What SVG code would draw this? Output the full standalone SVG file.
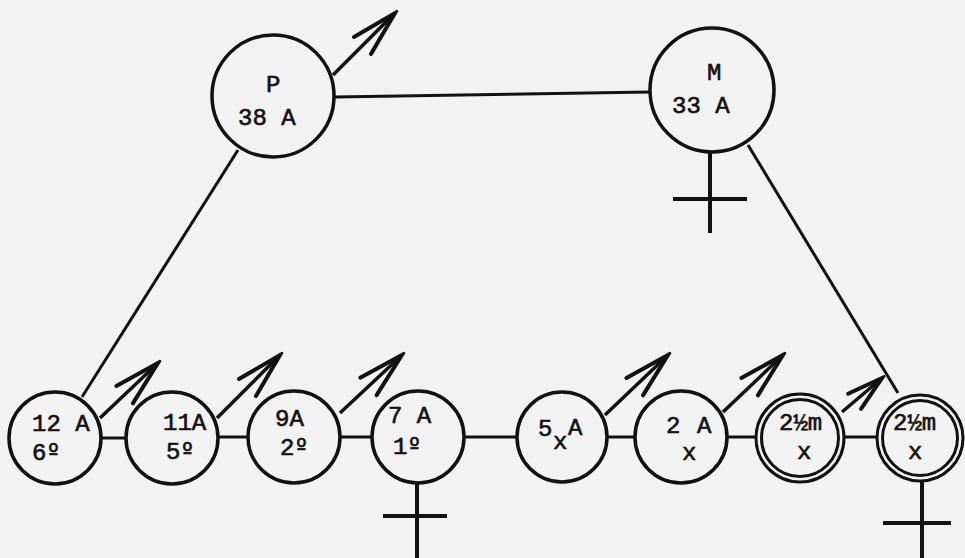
<svg xmlns="http://www.w3.org/2000/svg" width="965" height="558" viewBox="0 0 965 558">
<style>
.bg{fill:#f2f2f2}
.c{fill:none;stroke:#111;stroke-width:3.5}
.d{fill:none;stroke:#111;stroke-width:3}
.l{stroke:#111;stroke-width:3;fill:none}
.a{stroke:#111;stroke-width:3.5;fill:none}
.f{stroke:#111;stroke-width:4;fill:none}
text{font-family:"Liberation Mono","DejaVu Sans Mono",monospace;font-size:24px;fill:#111;stroke:#111;stroke-width:0.6}
.o{font-family:"DejaVu Sans Mono","DejaVu Sans",monospace;font-size:23px}
</style>
<defs>
<marker id="ah" markerUnits="userSpaceOnUse" markerWidth="56" markerHeight="34" viewBox="-52 -17 56 34" refX="0" refY="0" orient="auto">
<path d="M-46,-12 L0,0 L-46,12" fill="none" stroke="#111" stroke-width="4" stroke-linecap="round" stroke-linejoin="miter"/>
</marker>
<marker id="ahs" markerUnits="userSpaceOnUse" markerWidth="46" markerHeight="30" viewBox="-42 -15 46 30" refX="0" refY="0" orient="auto">
<path d="M-36,-10 L0,0 L-36,10" fill="none" stroke="#111" stroke-width="4" stroke-linecap="round" stroke-linejoin="miter"/>
</marker>
</defs>
<rect class="bg" x="0" y="0" width="965" height="558"/>
<g id="connectors">
<line class="l" x1="335" y1="97" x2="650" y2="92"/>
<line class="l" x1="238" y1="150" x2="82" y2="397"/>
<line class="l" x1="748" y1="145" x2="898" y2="393"/>
<line class="l" x1="102" y1="438" x2="125" y2="438"/>
<line class="l" x1="218" y1="437" x2="248" y2="437"/>
<line class="l" x1="340" y1="437" x2="372" y2="437"/>
<line class="l" x1="464" y1="437" x2="517" y2="437"/>
<line class="l" x1="607" y1="437" x2="635" y2="437"/>
<line class="l" x1="727" y1="437" x2="756" y2="437"/>
<line class="l" x1="844" y1="437" x2="877" y2="437"/>
</g>
<g id="arrows">
<line class="a" x1="333" y1="75" x2="395" y2="13" marker-end="url(#ah)"/>
<line class="a" x1="100" y1="418" x2="158" y2="363" marker-end="url(#ah)"/>
<line class="a" x1="217" y1="418" x2="280" y2="355" marker-end="url(#ah)"/>
<line class="a" x1="340" y1="413" x2="402" y2="355" marker-end="url(#ah)"/>
<line class="a" x1="605" y1="415" x2="668" y2="355" marker-end="url(#ah)"/>
<line class="a" x1="723" y1="412" x2="783" y2="355" marker-end="url(#ah)"/>
<line class="a" x1="842" y1="412" x2="882" y2="378" marker-end="url(#ahs)"/>
</g>
<g id="node-P">
<circle class="c" cx="273" cy="96" r="61"/>
<text x="266" y="92">P</text>
<text x="238" y="125">38 A</text>
</g>
<g id="node-M">
<circle class="c" cx="712" cy="90" r="62"/>
<text x="707" y="80">M</text>
<text x="672" y="113">33 A</text>
<line class="f" x1="710" y1="153" x2="710" y2="233"/>
<line class="f" x1="673" y1="199" x2="747" y2="199"/>
</g>
<g id="node-1">
<circle class="c" cx="55" cy="438" r="46"/>
<text x="32" y="431">12 A</text>
<text x="32" y="460">6<tspan class="o">º</tspan></text>
</g>
<g id="node-2">
<circle class="c" cx="172" cy="438" r="46"/>
<text x="163" y="430">11A</text>
<text x="166" y="459">5<tspan class="o">º</tspan></text>
</g>
<g id="node-3">
<circle class="c" cx="294" cy="437" r="46"/>
<text x="275" y="426">9A</text>
<text x="280" y="455">2<tspan class="o">º</tspan></text>
</g>
<g id="node-4">
<circle class="c" cx="418" cy="437" r="46"/>
<text x="388" y="423">7 A</text>
<text x="393" y="454">1<tspan class="o">º</tspan></text>
<line class="f" x1="417" y1="484" x2="417" y2="558"/>
<line class="f" x1="383" y1="516" x2="447" y2="516"/>
</g>
<g id="node-5">
<circle class="c" cx="562" cy="437" r="45"/>
<text x="538" y="436">5</text>
<text x="553" y="449">x</text>
<text x="568" y="435">A</text>
</g>
<g id="node-6">
<circle class="c" cx="681" cy="437" r="46"/>
<text x="666" y="433">2</text>
<text x="697" y="433">A</text>
<text x="682" y="460">x</text>
</g>
<g id="node-7">
<circle class="d" cx="800" cy="438" r="44"/>
<circle class="d" cx="800" cy="438" r="38.5"/>
<text x="779" y="430">2½m</text>
<text x="797" y="459">x</text>
</g>
<g id="node-8">
<circle class="d" cx="920" cy="438" r="43"/>
<circle class="d" cx="920" cy="438" r="37.5"/>
<text x="893" y="430">2½m</text>
<text x="908" y="459">x</text>
<line class="f" x1="922" y1="482" x2="922" y2="558"/>
<line class="f" x1="883" y1="523" x2="951" y2="523"/>
</g>
</svg>
